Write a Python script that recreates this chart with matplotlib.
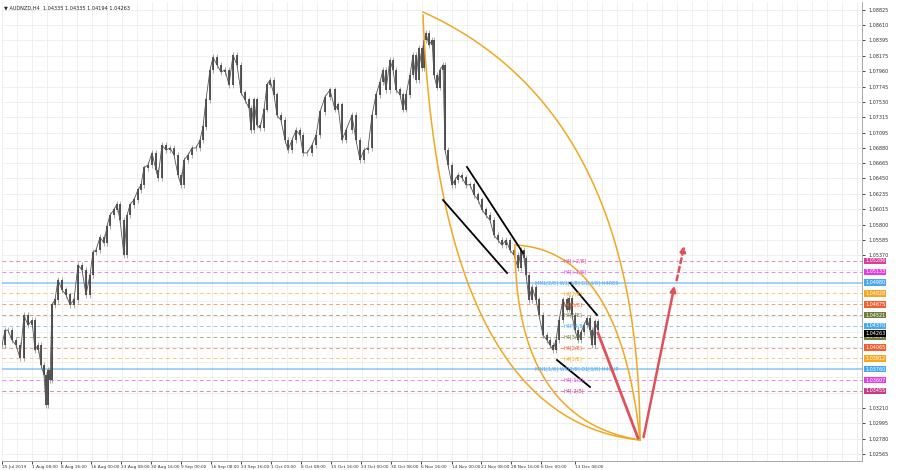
import matplotlib
matplotlib.use("Agg")
import matplotlib.pyplot as plt
import numpy as np

# ---------------- data ----------------
bar_x = [2,5,8,12,16,20,24,28,32,35,38,41,44,46,48,50,52,55,58,62,66,70,74,78,82,86,90,93,96,100,
         104,107,110,114,117,120,124,127,130,134,138,141,144,148,152,156,158,162,166,170,174,178,181,184,188,192,196,200,
         203,206,210,213,217,221,225,229,233,237,241,245,249,251,254,257,260,264,267,270,274,277,281,285,288,292,296,300,
         303,307,312,316,320,325,330,335,338,342,346,352,356,360,364,368,372,376,380,383,386,390,393,396,400,403,406,410,
         413,416,419,422,424,426,429,432,434,437,440,443,445,448,452,455,458,462,466,470,474,478,482,486,490,494,498,502,
         506,510,514,518,521,524,526,529,532,536,539,543,547,550,553,556,559,563,567,569,572,575,578,581,584,587,590,592,595,598]
closes = [1.0410,1.0431,1.0431,1.0417,1.0410,1.0392,1.0452,1.0438,1.0445,1.0403,1.0410,1.0382,1.0368,1.0326,1.0375,1.0361,1.0467,1.0474,1.0502,1.0488,
          1.0481,1.0467,1.0474,1.0523,1.0516,1.0481,1.0509,1.0541,1.0544,1.0562,1.0554,1.0578,1.0593,1.0601,1.0609,1.0586,1.0537,1.0593,1.0608,1.0615,
          1.0629,1.0636,1.0660,1.0664,1.0681,1.0657,1.0646,1.0692,1.0685,1.0688,1.0678,1.0650,1.0636,1.0671,1.0678,1.0688,1.0688,1.0699,
          1.0718,1.0756,1.0798,1.0816,1.0805,1.0795,1.0798,1.0777,1.0819,1.0805,1.0766,1.0756,1.0744,1.0713,1.0756,1.0720,1.0716,1.0742,1.0777,1.0784,
          1.0763,1.0734,1.0727,1.0699,1.0685,1.0699,1.0713,1.0706,
          1.0681,1.0681,1.0692,1.0706,1.0739,1.0760,1.0770,1.0742,1.0749,1.0699,1.0713,1.0734,1.0699,1.0671,1.0685,1.0688,1.0734,1.0763,1.0781,1.0798,
          1.0770,1.0812,1.0798,1.0770,1.0763,1.0742,1.0763,1.0791,
          1.0819,1.0784,1.0829,1.0801,1.0840,1.0850,1.0833,1.0840,1.0791,1.0773,1.0798,1.0805,1.0685,1.0664,1.0636,1.0643,1.0650,1.0646,1.0636,1.0636,
          1.0622,1.0615,1.0601,1.0593,1.0586,1.0565,1.0558,1.0551,1.0558,1.0544,1.0537,1.0519,1.0544,1.0533,1.0509,1.0474,1.0492,1.0474,1.0452,1.0424,
          1.0417,1.0410,1.0403,1.0417,1.0445,1.0474,1.0460,1.0476,1.0452,1.0431,1.0417,1.0428,1.0438,1.0448,1.0431,1.0410,1.0443,1.0431]

level_prices = [1.05286,1.05133,1.04980,1.04828,1.04675,1.04521,1.04370,1.04217,1.04065,1.03912,1.03760,1.03607,1.03455]
level_colors = ['#d8409a','#e040e0','#4aa8f0','#f5a623','#f06030','#6e7d3c','#4aa8f0','#6e7d3c','#f06030','#f5a623','#4aa8f0','#e040e0','#c83c8c']
level_labels = ['H4[+2/8]','H4[+1/8]','MN1[2/8] W1[3/8] D1[4/8] H4RES','H4[7/8]','H4[6/8]','H4[5/8]','H4P[4/8]',
                'H4[3/8]','H4[2/8]','H4[1/8]','MN1[1/8] W1[2/8] D1[3/8] H4SUP','H4[-1/8]','H4[-2/8]']
current_price = 1.04263

y_ticks = [1.08825,1.08610,1.08395,1.08175,1.07960,1.07745,1.07530,1.07315,1.07095,1.06880,1.06665,1.06450,1.06235,
           1.06015,1.05800,1.05585,1.05370,1.05155,1.04940,1.04725,1.04505,1.04290,1.04075,1.03860,1.03645,1.03425,
           1.03210,1.02995,1.02780,1.02565]
date_labels = ['25 Jul 2019','1 Aug 08:00','8 Aug 16:00','16 Aug 00:00','23 Aug 08:00','30 Aug 16:00','9 Sep 00:00',
               '16 Sep 08:00','23 Sep 16:00','1 Oct 00:00','8 Oct 08:00','15 Oct 16:00','23 Oct 00:00','30 Oct 08:00',
               '6 Nov 16:00','14 Nov 00:00','21 Nov 08:00','28 Nov 16:00','6 Dec 00:00','13 Dec 08:00']
date_pos = [2,32,61,91,121,151,181,211,241,271,301,331,361,391,421,452,481,511,541,575]

# ---------------- figure ----------------
def py(y):
    return 1.08966 - 0.000141 * y

fig = plt.figure(figsize=(9, 4.7), dpi=100)
ax = fig.add_axes([2/900, 1 - 461/470, 860/900, 459/470])
ax.set_xlim(2, 862)
ax.set_ylim(py(461), py(2))

# grid
for p in y_ticks:
    ax.axhline(p, color='#eeeeee', lw=0.6, zorder=0)
for gx in np.arange(2, 862, 15):
    ax.axvline(gx, color='#eeeeee', lw=0.6, zorder=0)

# levels
for p, c, l in zip(level_prices, level_colors, level_labels):
    solid = l.startswith('MN1')
    ax.axhline(p, color=c, lw=1.2 if solid else 0.7, ls='-' if solid else (0, (4, 3)), alpha=0.6, zorder=1)
    xt = 535 if solid else 563
    ax.text(xt, p, l, color=c, fontsize=3.6, va='center', ha='left', zorder=5)
    ax.text(865, p, f'{p:.5f}', fontsize=3.5, color='white', va='center', ha='left', clip_on=False,
            bbox=dict(boxstyle='square,pad=0.15', fc=c, ec='none'))
ax.text(865, current_price, f'{current_price:.5f}', fontsize=3.5, color='white', va='center', ha='left',
        clip_on=False, bbox=dict(boxstyle='square,pad=0.15', fc='black', ec='none'))

# candles
prev = closes[0]
for x, c in zip(bar_x, closes):
    lo, hi = min(prev, c), max(prev, c)
    ax.vlines(x, lo - 0.0004, hi + 0.0004, color='#888888', lw=0.5, zorder=3)
    ax.vlines(x, lo, hi + 0.00005, color='#3a3a3a', lw=1.2, zorder=3)
    prev = c
ax.plot(bar_x, closes, color='#555555', lw=0.6, zorder=3)

# arcs
def bez(p0, p1, p2, **kw):
    t = np.linspace(0, 1, 100)
    xs = (1-t)**2*p0[0] + 2*(1-t)*t*p1[0] + t**2*p2[0]
    ys = (1-t)**2*p0[1] + 2*(1-t)*t*p1[1] + t**2*p2[1]
    ax.plot(xs, py(ys), **kw)
arc = dict(color='#f0a820', lw=1.1, zorder=4)
bez((423, 12), (640, 110), (640, 440), **arc)
bez((423, 15), (440, 420), (640, 440), **arc)
bez((515, 245), (515, 420), (640, 440), **arc)
bez((515, 245), (620, 250), (640, 440), **arc)

# trend lines
for (x0, y0), (x1, y1) in [((443, 200), (507, 273)), ((467, 167), (523, 253)),
                           ((570, 283), (597, 315)), ((557, 360), (590, 387))]:
    ax.plot([x0, x1], [py(y0), py(y1)], color='black', lw=1.3, zorder=4)

# red projection arrows
red = '#e0505a'
ax.plot([598, 638], [py(333), py(438)], color=red, lw=2, zorder=5)
ax.annotate('', xy=(675, py(283)), xytext=(643, py(440)),
            arrowprops=dict(arrowstyle='-|>', color=red, lw=1.8, mutation_scale=8), zorder=5)
ax.annotate('', xy=(685, py(243)), xytext=(676, py(283)),
            arrowprops=dict(arrowstyle='-|>', color=red, lw=1.8, ls=(0, (2, 1.5)), mutation_scale=8), zorder=5)

# axes styling
for s in ['top', 'left']:
    ax.spines[s].set_visible(False)
for s in ['right', 'bottom']:
    ax.spines[s].set_color('#999999')
    ax.spines[s].set_linewidth(0.6)
ax.yaxis.tick_right()
shown = [v for v in y_ticks if all(abs(v - p) > 0.0006 for p in level_prices + [current_price])]
ax.set_yticks(shown)
ax.set_yticklabels([f'{v:.5f}' for v in shown], fontsize=3.5, color='#333333')
ax.tick_params(axis='y', length=2, width=0.5, pad=3)
ax.set_xticks(date_pos)
ax.set_xticklabels(date_labels, fontsize=3.1, color='#333333', ha='left')
ax.tick_params(axis='x', length=2, width=0.5, pad=1)

ax.text(4, py(5), '▼ AUDNZD,H4  1.04335 1.04335 1.04194 1.04263', fontsize=3.6, va='top', ha='left', color='#222222')

fig.savefig('out.png', dpi=100, facecolor='white')
